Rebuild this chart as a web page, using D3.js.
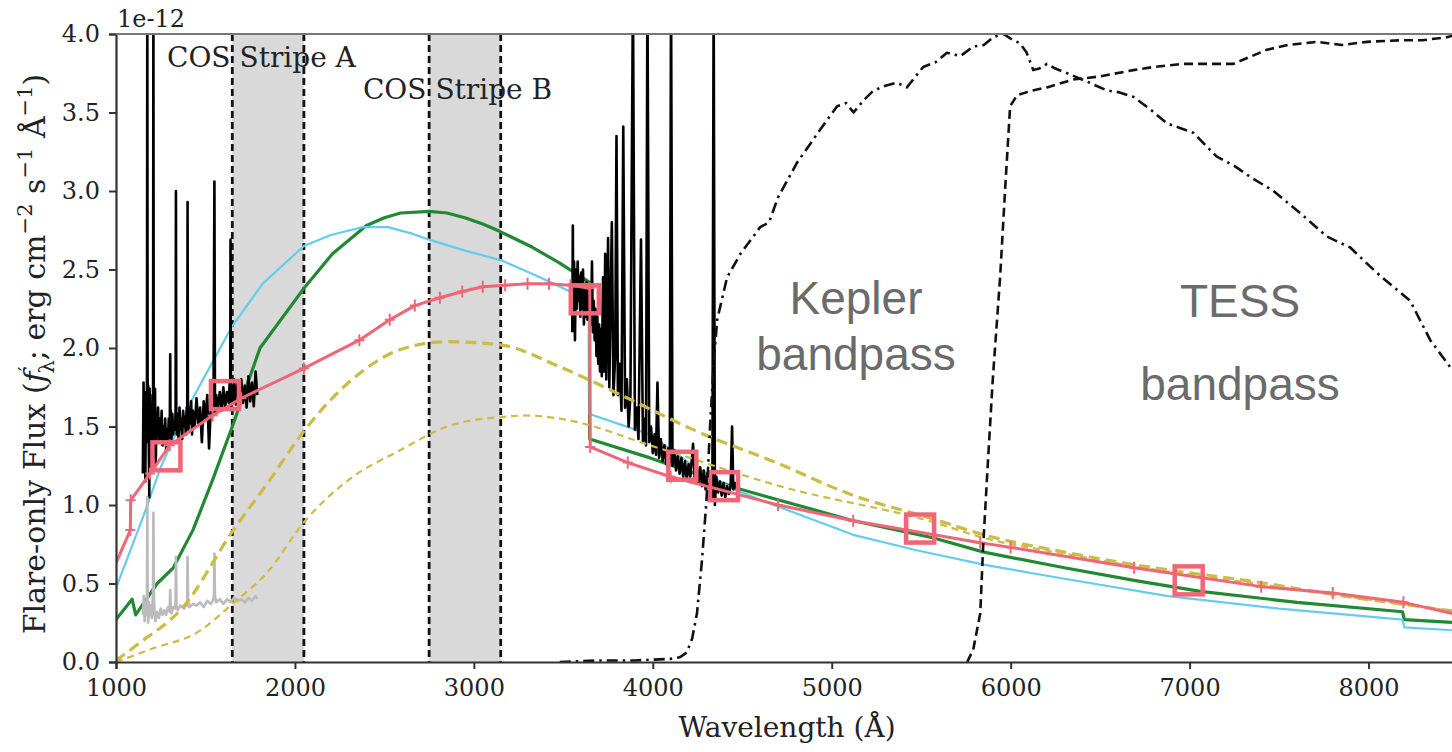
<!DOCTYPE html>
<html><head><meta charset="utf-8">
<script src="https://cdn.jsdelivr.net/npm/d3@7"></script>
<style>body{margin:0;background:#fff} svg{display:block}</style>
</head><body><svg id="c" width="1452" height="752"></svg>
<script>
// ---------- data ----------
const xTicks = [1000,2000,3000,4000,5000,6000,7000,8000];
const yTicks = [0,0.5,1.0,1.5,2.0,2.5,3.0,3.5,4.0];
const stripes = [[1650,2050],[2750,3150]];
const stripeLabels = ["COS Stripe A","COS Stripe B"];
const stripeLabelW = [1285,2380];

const blueW = [1000,1150,1250,1340,1420,1525,1650,1820,2050,2200,2380,2520,2650,2750,2950,3150,3350,3500,3645,3647,3800,3985,4200,4450,4700,5120,5480,5850,6300,6880,7500,8190,8200,8500];
const blueV = [0.47,0.92,1.24,1.47,1.66,1.88,2.14,2.41,2.65,2.72,2.77,2.77,2.73,2.69,2.62,2.56,2.46,2.38,2.30,1.58,1.52,1.45,1.27,1.10,0.99,0.81,0.71,0.62,0.53,0.42,0.34,0.27,0.22,0.20];

const greenW = [1000,1090,1110,1230,1320,1430,1540,1650,1805,2050,2210,2400,2500,2590,2750,2850,2950,3050,3150,3330,3480,3645,3647,3985,4490,5120,5570,5850,6300,6690,7060,7600,8190,8200,8500];
const greenV = [0.27,0.40,0.30,0.50,0.60,0.84,1.16,1.50,2.00,2.38,2.60,2.78,2.83,2.86,2.87,2.86,2.83,2.79,2.74,2.64,2.54,2.42,1.42,1.30,1.10,0.90,0.79,0.70,0.60,0.52,0.45,0.38,0.32,0.27,0.25];

const pinkW = [1000,1080,1082,1190,1300,1540,1700,2050,2360,2530,2670,2810,2935,3050,3175,3300,3420,3540,3648,3650,3860,4100,4700,5120,5830,6000,6690,7400,7800,8195,8500];
const pinkV = [0.63,0.84,1.03,1.20,1.38,1.57,1.68,1.87,2.05,2.18,2.27,2.32,2.36,2.39,2.40,2.41,2.41,2.40,2.38,1.37,1.27,1.18,1.00,0.90,0.76,0.73,0.60,0.48,0.44,0.38,0.30];

const sqW = [1282,1609,3620,4165,4398,5494,6995];
const sqV = [1.31,1.70,2.31,1.25,1.12,0.85,0.52];

const yelHiW = [1000,1130,1375,1650,1860,2050,2300,2590,2850,3150,3480,3860,4225,4710,5100,5570,5850,6300,6690,7430,7800,8180,8500];
const yelHiV = [0.01,0.12,0.35,0.83,1.16,1.47,1.78,1.99,2.04,2.02,1.88,1.68,1.48,1.26,1.07,0.91,0.81,0.70,0.62,0.50,0.43,0.37,0.32];

const yelLoW = [1000,1190,1470,1650,1845,2050,2300,2590,2850,3150,3300,3480,4040,4710,5570,5850,6300,6690,7430,8180,8500];
const yelLoV = [0.00,0.08,0.20,0.37,0.57,0.89,1.16,1.35,1.50,1.56,1.57,1.55,1.36,1.12,0.89,0.79,0.69,0.61,0.49,0.37,0.32];

const fuvW = [1150,1154,1158,1161,1164,1167,1170,1173,1175,1177,1180,1184,1186,1188,1192,1196,1200,1204,1207,1209,1211,1214,1218,1222,1226,1230,1235,1240,1245,1250,1255,1260,1265,1270,1275,1280,1285,1290,1295,1300,1303,1305,1307,1310,1315,1320,1325,1330,1333,1335,1337,1340,1345,1350,1355,1360,1365,1370,1375,1380,1385,1390,1395,1398,1400,1402,1405,1410,1415,1420,1425,1430,1440,1450,1460,1470,1480,1490,1500,1510,1520,1530,1540,1545,1550,1553,1556,1560,1570,1580,1590,1600,1610,1620,1630,1635,1638,1640,1642,1645,1650,1655,1660,1670,1680,1690,1700,1710,1720,1730,1740,1750,1760,1770,1780,1790];
const fuvV = [1.20,1.78,1.25,1.72,1.15,1.66,1.40,1.70,4.30,1.50,1.76,1.30,1.05,1.74,1.20,1.62,1.38,1.70,1.50,4.30,1.55,1.30,1.74,1.25,1.55,1.45,1.62,1.40,1.55,1.42,1.60,1.38,1.50,1.40,1.55,1.35,1.48,1.42,1.55,1.40,1.96,1.45,1.60,1.42,1.58,1.45,1.52,1.48,1.60,3.00,1.55,1.45,1.58,1.40,1.62,1.48,1.55,1.42,1.60,1.50,1.56,1.45,1.62,1.50,2.93,1.60,1.48,1.62,1.52,1.66,1.45,1.60,1.50,1.68,1.52,1.62,1.40,1.66,1.55,1.70,1.36,1.62,1.58,1.66,3.06,1.70,1.58,1.70,1.62,1.72,1.60,1.75,1.62,1.72,1.65,1.78,1.62,2.69,1.70,1.62,1.76,1.66,1.80,1.64,1.78,1.62,1.80,1.65,1.76,1.62,1.82,1.66,1.78,1.63,1.85,1.70];

const grayW = [1150,1155,1160,1165,1170,1173,1175,1177,1180,1185,1190,1195,1200,1205,1207,1209,1212,1216,1220,1230,1240,1250,1260,1270,1280,1290,1300,1303,1306,1310,1320,1330,1333,1335,1338,1345,1360,1380,1395,1398,1400,1403,1410,1430,1450,1470,1490,1510,1530,1545,1548,1550,1553,1560,1580,1600,1620,1640,1660,1680,1700,1720,1740,1760,1780,1790];
const grayV = [0.30,0.42,0.26,0.38,0.30,0.45,1.05,0.40,0.25,0.38,0.30,0.36,0.28,0.40,0.45,0.95,0.42,0.30,0.26,0.32,0.28,0.34,0.30,0.33,0.30,0.35,0.32,0.46,0.34,0.31,0.35,0.34,0.40,0.67,0.36,0.33,0.36,0.34,0.36,0.40,0.67,0.38,0.35,0.37,0.36,0.38,0.35,0.39,0.37,0.40,0.44,0.69,0.42,0.38,0.40,0.37,0.40,0.38,0.41,0.39,0.40,0.38,0.41,0.39,0.42,0.40];

const optW = [3550,3553,3556,3560,3565,3570,3575,3580,3585,3590,3595,3600,3605,3610,3615,3620,3625,3630,3635,3640,3645,3650,3655,3660,3665,3670,3675,3680,3685,3690,3695,3700,3705,3710,3715,3722,3727,3734,3740,3750,3757,3771,3780,3790,3797,3805,3815,3825,3835,3845,3855,3865,3875,3889,3900,3910,3920,3934,3945,3955,3962,3970,3980,3990,4000,4010,4018,4026,4035,4045,4055,4065,4075,4085,4095,4102,4110,4120,4130,4140,4150,4160,4170,4180,4190,4200,4210,4225,4235,4245,4255,4265,4275,4285,4295,4305,4315,4325,4333,4340,4347,4355,4365,4375,4385,4395,4405,4415,4425,4435,4443,4450,4460,4470];
const optV = [2.10,2.78,2.20,2.55,2.05,2.50,2.25,2.55,2.30,2.45,2.20,2.48,2.25,2.50,2.15,2.40,2.20,2.42,2.18,2.38,2.25,2.35,2.15,2.55,2.10,2.30,2.05,2.25,1.95,2.20,1.90,2.15,1.85,2.12,1.82,2.45,1.85,2.60,1.80,2.70,1.75,2.80,1.70,1.95,3.35,1.70,1.90,1.60,3.41,1.62,1.80,1.50,1.70,4.30,1.48,1.62,1.42,2.69,1.40,1.55,1.38,4.30,1.40,1.50,1.33,1.45,1.32,1.78,1.30,1.42,1.28,1.38,1.26,1.36,1.27,4.30,1.25,1.35,1.22,1.32,1.20,1.30,1.18,1.28,1.16,1.26,1.18,1.39,1.15,1.25,1.14,1.24,1.12,1.22,1.10,1.20,1.08,1.18,1.05,4.30,1.00,1.18,1.08,1.15,1.06,1.14,1.05,1.12,1.07,1.12,1.50,1.10,1.14,1.10];

const keplerW = [3480,3700,3900,4100,4150,4190,4220,4247,4275,4300,4320,4340,4360,4415,4490,4600,4650,4700,4806,4935,5030,5080,5122,5180,5233,5300,5364,5420,5511,5580,5644,5720,5791,5850,5903,5960,6000,6053,6090,6126,6160,6203,6250,6316,6420,6539,6600,6685,6780,6875,6950,7022,7150,7250,7339,7469,7618,7767,7898,7980,8065,8150,8233,8345,8468,8500];
const keplerV = [0.00,0.01,0.01,0.02,0.03,0.06,0.15,0.31,0.65,1.03,1.50,1.90,2.18,2.45,2.60,2.77,2.80,2.96,3.18,3.39,3.54,3.56,3.50,3.58,3.64,3.67,3.69,3.66,3.79,3.82,3.88,3.86,3.92,3.93,3.98,4.00,3.97,3.94,3.88,3.77,3.78,3.81,3.78,3.75,3.70,3.64,3.63,3.60,3.52,3.43,3.40,3.37,3.22,3.16,3.09,3.00,2.86,2.71,2.64,2.55,2.46,2.38,2.30,2.05,1.86,1.84];

const tessW = [5757,5791,5830,5846,5867,5900,5941,5970,5997,6036,6120,6203,6350,6500,6685,6800,6965,7100,7245,7432,7550,7712,7850,7991,8177,8300,8440,8500];
const tessV = [0.00,0.08,0.31,0.73,1.16,1.80,2.45,3.03,3.54,3.61,3.64,3.66,3.71,3.73,3.77,3.79,3.81,3.81,3.81,3.90,3.93,3.95,3.93,3.95,3.96,3.96,3.98,4.00];

// ---------- colors ----------
const C = {cyan:"#66CCEE", green:"#228833", red:"#EE6677", yellow:"#CCBB44", grey:"#BBBBBB"};

// ---------- setup ----------
const svg = d3.select("#c");
const L = 116, R = 1458, T = 34, B = 662;
const x = d3.scaleLinear().domain([1000,8500]).range([L,R]);
const y = d3.scaleLinear().domain([0,4]).range([B,T]);
const serif = "'DejaVu Serif', serif";
const sans = "'Liberation Sans', Arial, sans-serif";

svg.append("defs").append("clipPath").attr("id","clip")
  .append("rect").attr("x",L).attr("y",T).attr("width",R-L).attr("height",B-T);
const g = svg.append("g").attr("clip-path","url(#clip)");

const zip = (W,V) => W.map((w,i)=>[w,V[i]]);
const line = d3.line().x(d=>x(d[0])).y(d=>y(d[1]));
const smooth = d3.line().x(d=>x(d[0])).y(d=>y(d[1])).curve(d3.curveMonotoneX);

// stripes
stripes.forEach(s=>{
  g.append("rect").attr("x",x(s[0])).attr("y",T).attr("width",x(s[1])-x(s[0])).attr("height",B-T)
    .attr("fill","#d9d9d9");
});
stripes.forEach(s=>{
  s.forEach(w=>{
    g.append("line").attr("x1",x(w)).attr("x2",x(w)).attr("y1",T).attr("y2",B)
      .attr("stroke","#111").attr("stroke-width",2.8).attr("stroke-dasharray","7,4");
  });
});

function path(W,V,color,width,dash,gen){
  const p = g.append("path").datum(zip(W,V)).attr("d",gen||line)
    .attr("fill","none").attr("stroke",color).attr("stroke-width",width)
    .attr("stroke-linejoin","round");
  if(dash) p.attr("stroke-dasharray",dash);
  return p;
}

path(greenW,greenV,C.green,3.2);
path(blueW,blueV,C.cyan,2.2);
path(fuvW,fuvV,"#000",2.6);
path(optW,optV,"#000",2.6);
path(grayW,grayV,C.grey,2.6);
path(yelHiW,yelHiV,C.yellow,3.2,"11,6",smooth);
path(yelLoW,yelLoV,C.yellow,2.2,"7,5",smooth);
path(pinkW,pinkV,C.red,3);

// plus markers on pink
g.selectAll(".plus").data(zip(pinkW,pinkV).slice(1)).enter().append("path")
  .attr("d",d=>{const cx=x(d[0]),cy=y(d[1]);return `M${cx-5},${cy}H${cx+5}M${cx},${cy-6}V${cy+6}`;})
  .attr("stroke",C.red).attr("stroke-width",2);

// squares
g.selectAll(".sq").data(zip(sqW,sqV)).enter().append("rect")
  .attr("x",d=>x(d[0])-14).attr("y",d=>y(d[1])-14).attr("width",28).attr("height",28)
  .attr("fill","none").attr("stroke",C.red).attr("stroke-width",4.5);

// bandpasses
path(keplerW,keplerV,"#111",2.6,"11,5,2.5,5");
path(tessW,tessV,"#111",2.6,"9,5");

// ---------- axes ----------
const xAxis = svg.append("g").attr("transform",`translate(0,${B})`)
  .call(d3.axisBottom(x).tickValues(xTicks).tickFormat(d3.format("d")).tickSize(7).tickPadding(10));
const yAxis = svg.append("g").attr("transform",`translate(${L},0)`)
  .call(d3.axisLeft(y).tickValues(yTicks).tickFormat(d3.format(".1f")).tickSize(7).tickPadding(9));
[xAxis,yAxis].forEach(a=>{
  a.select(".domain").attr("stroke","#333").attr("stroke-width",2.2);
  a.selectAll(".tick line").attr("stroke","#333").attr("stroke-width",2);
  a.selectAll(".tick text").attr("font-family",serif).attr("font-size",24).attr("fill","#222");
});
svg.append("line").attr("x1",L).attr("x2",R).attr("y1",T).attr("y2",T)
  .attr("stroke","#777").attr("stroke-width",2);

// ---------- texts ----------
svg.append("text").attr("x",117).attr("y",27).attr("font-family",serif).attr("font-size",24)
  .attr("fill","#222").text("1e-12");

stripeLabels.forEach((t,i)=>{
  svg.append("text").attr("x",x(stripeLabelW[i])).attr("y",i===0?67:99)
    .attr("font-family",serif).attr("font-size",28).attr("fill","#222").text(t);
});

svg.append("text").attr("x",787).attr("y",737).attr("text-anchor","middle")
  .attr("font-family",serif).attr("font-size",28).attr("fill","#222").text("Wavelength (Å)");

const yl = svg.append("text").attr("transform","translate(45,354) rotate(-90)")
  .attr("text-anchor","middle").attr("font-family",serif).attr("font-size",30).attr("fill","#222");
yl.append("tspan").text("Flare-only Flux (");
yl.append("tspan").attr("font-style","italic").text("f");
yl.append("tspan").attr("font-size",21).attr("dy",-12).text("′");
yl.append("tspan").attr("font-size",21).attr("dy",21).attr("dx",-7).text("λ");
yl.append("tspan").attr("dy",-9).text("; erg cm");
yl.append("tspan").attr("font-size",21).attr("dy",-13).text("−2");
yl.append("tspan").attr("dy",13).text(" s");
yl.append("tspan").attr("font-size",21).attr("dy",-13).text("−1");
yl.append("tspan").attr("dy",13).text(" Å");
yl.append("tspan").attr("font-size",21).attr("dy",-13).text("−1");
yl.append("tspan").attr("dy",13).text(")");

const bandTxt = [["Kepler",856,314],["bandpass",856,370],["TESS",1240,317],["bandpass",1240,400]];
bandTxt.forEach(b=>{
  svg.append("text").attr("x",b[1]).attr("y",b[2]).attr("text-anchor","middle")
    .attr("font-family",sans).attr("font-size",46).attr("fill","#6b6b6b").text(b[0]);
});
</script></body></html>
